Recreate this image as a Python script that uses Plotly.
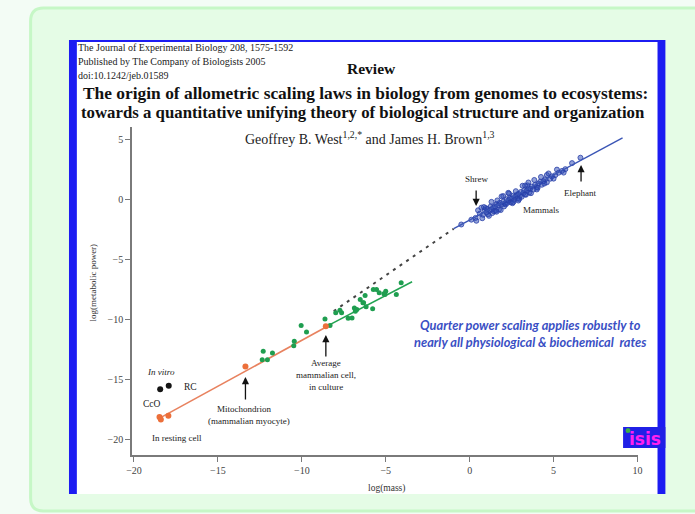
import plotly.graph_objects as go

W, H = 695, 514

# ---------------- data ----------------
orange_x = [-18.48, -18.40, -17.95, -13.36, -8.57]
orange_y = [-18.10, -18.30, -17.98, -13.90, -10.56]
orange_fit_x = [-18.58, -8.20]
orange_fit_y = [-18.27, -10.35]

invitro_x = [-18.44, -17.93]
invitro_y = [-15.78, -15.50]

green_x = [-12.30, -12.36, -12.05, -11.75, -10.04, -9.72, -10.45, -10.48,
           -8.62, -8.32, -7.98, -7.73, -7.63, -7.24, -7.01, -6.87, -6.81,
           -6.72, -6.52, -6.36, -6.23, -6.17, -5.78, -5.55, -5.39, -5.11,
           -5.00, -4.37, -4.08, -6.32, -5.05, -5.74]
green_y = [-12.64, -13.33, -13.33, -12.78, -10.50, -11.03, -11.81, -12.17,
           -9.95, -10.50, -9.44, -9.22, -9.44, -9.89, -9.86, -9.03, -9.31,
           -9.17, -8.33, -8.61, -8.00, -8.94, -9.11, -7.50, -7.78, -7.86,
           -7.64, -7.92, -6.94, -8.61, -7.92, -7.50]
green_fit_x = [-8.30, -3.43]
green_fit_y = [-10.40, -6.86]

bridge_x = [-8.10, -0.95]
bridge_y = [-9.30, -2.45]

mammal_x = [-0.50, 0.10, 0.35, 0.60, 0.70, 0.80, 0.90, 1.00, 1.05, 1.10, 1.20,
            1.25, 1.30, 1.35, 1.40, 1.50, 1.55, 1.60, 1.70, 1.75, 1.80, 1.90,
            2.00, 2.05, 2.10, 2.20, 2.25, 2.30, 2.40, 2.45, 2.50, 2.60, 2.65,
            2.70, 2.80, 2.85, 2.90, 3.00, 3.05, 3.10, 3.20, 3.25, 3.30, 3.40,
            3.50, 3.55, 3.60, 3.70, 3.80, 3.90, 4.00, 4.10, 4.20, 4.30, 4.40,
            4.50, 4.60, 4.80, 4.90, 5.10, 5.30, 5.50, 5.70, 6.10, 6.60,
            0.50, 0.75, 0.95, 1.15, 1.30, 1.45, 1.65, 1.85, 2.00, 2.15, 2.35,
            2.55, 2.75, 2.95, 3.15, 3.35, 3.45, 3.65, 3.85, 4.05, 4.25, 4.45,
            4.70, 5.00, 5.20, 5.60, 0.40, 0.85, 1.60, 2.30, 2.90, 3.50, 4.00,
            4.60, 1.90, 2.60, 3.30]
mammal_y = [-2.10, -1.70, -1.55, -1.20, -0.70, -1.30, -0.90, -1.10, -0.80,
            -1.25, -0.95, -0.60, -0.85, -1.15, -0.70, -0.60, -0.95, -0.40,
            -0.50, -0.85, -0.30, -0.45, -0.20, -0.60, -0.35, 0.00, -0.30,
            -0.10, 0.10, -0.25, 0.05, 0.30, -0.05, 0.20, 0.35, 0.05, 0.45,
            0.30, 0.60, 0.20, 0.50, 0.75, 0.40, 0.70, 0.90, 0.55, 0.85, 1.05,
            0.80, 1.20, 1.00, 1.30, 1.45, 1.20, 1.50, 1.65, 1.40, 1.70, 1.90,
            2.00, 2.20, 2.35, 2.50, 3.00, 3.45,
            -0.92, -1.58, -0.73, -1.38, -0.22, -1.00, -0.10, -0.90, 0.26,
            -0.43, 0.47, -0.33, 0.67, 0.02, 1.12, 0.37, 1.15, 0.50, 1.60,
            0.95, 1.85, 1.30, 2.14, 1.71, 2.46, 2.21, -1.79, -0.65, -1.04,
            0.53, -0.11, 1.39, 0.81, 2.01, 0.23, -0.24, 1.14]
mammal_fit_x = [-0.95, 9.11]
mammal_fit_y = [-2.45, 5.10]

x_ticks = [-20, -15, -10, -5, 0, 5, 10]
y_ticks = [5, 0, -5, -10, -15, -20]

# ---------------- helpers ----------------
def px(x):
    return x / W


def py(y):
    return 1 - y / H


def rrect(x0, y0, x1, y1, r):
    pts = [("M", [(x0 + r, y0)]), ("L", [(x1 - r, y0)]), ("Q", [(x1, y0), (x1, y0 + r)]),
           ("L", [(x1, y1 - r)]), ("Q", [(x1, y1), (x1 - r, y1)]), ("L", [(x0 + r, y1)]),
           ("Q", [(x0, y1), (x0, y1 - r)]), ("L", [(x0, y0 + r)]), ("Q", [(x0, y0), (x0 + r, y0)])]
    s = ""
    for cmd, pp in pts:
        s += cmd + " " + " ".join(f"{px(a):.5f},{py(b):.5f}" for a, b in pp) + " "
    return s + "Z"


SERIF = "Liberation Serif"

fig = go.Figure()

fig.add_trace(go.Scatter(x=bridge_x, y=bridge_y, mode="lines",
                         line=dict(color="#444444", width=2, dash="3px,5px"),
                         hoverinfo="skip"))
fig.add_trace(go.Scatter(x=orange_fit_x, y=orange_fit_y, mode="lines",
                         line=dict(color="#e8825f", width=1.6), hoverinfo="skip"))
fig.add_trace(go.Scatter(x=green_fit_x, y=green_fit_y, mode="lines",
                         line=dict(color="#22a352", width=1.6), hoverinfo="skip"))
fig.add_trace(go.Scatter(x=green_x, y=green_y, mode="markers",
                         marker=dict(color="#1f9e50", size=5)))
fig.add_trace(go.Scatter(x=orange_x, y=orange_y, mode="markers",
                         marker=dict(color="#ec6f3a", size=6)))
fig.add_trace(go.Scatter(x=invitro_x, y=invitro_y, mode="markers",
                         marker=dict(color="#151515", size=6)))
fig.add_trace(go.Scatter(x=mammal_x, y=mammal_y, mode="markers",
                         marker=dict(color="rgba(40,70,180,0.5)", size=5,
                                     line=dict(color="#2a40a8", width=0.8))))
fig.add_trace(go.Scatter(x=mammal_fit_x, y=mammal_fit_y, mode="lines",
                         line=dict(color="#3a55b5", width=1.4), hoverinfo="skip"))

axis_common = dict(showgrid=False, zeroline=False, showline=True, linecolor="#7a7a7a",
                   linewidth=1.6, ticks="outside", ticklen=5, tickwidth=1.2,
                   tickcolor="#7a7a7a", tickfont=dict(family=SERIF, size=10, color="#444444"))

fig.update_layout(
    width=W, height=H, autosize=False,
    margin=dict(l=0, r=0, t=0, b=0),
    paper_bgcolor="#f3fcf5", plot_bgcolor="rgba(0,0,0,0)",
    showlegend=False,
    xaxis=dict(domain=[px(128), px(642)], range=[-20.12, 10.02], tickvals=x_ticks,
               anchor="y", **axis_common),
    yaxis=dict(domain=[py(455), py(127)], range=[-21.25, 6.0], tickvals=y_ticks,
               anchor="x", **axis_common),
)

shapes = [
    dict(type="path", path=rrect(25, 8, 740, 511, 13), xref="paper", yref="paper",
         fillcolor="#e5fce6", line=dict(color="#c6f7c6", width=3), layer="below"),
    dict(type="rect", xref="paper", yref="paper", x0=px(64), x1=px(670), y0=py(494), y1=py(40),
         fillcolor="#1c1cf2", line=dict(width=0), layer="below"),
    dict(type="rect", xref="paper", yref="paper", x0=px(72), x1=px(662), y0=py(494), y1=py(42),
         fillcolor="#ffffff", line=dict(width=0), layer="below"),
    dict(type="rect", xref="paper", yref="paper", x0=px(627), x1=px(670), y0=py(448), y1=py(427),
         fillcolor="#2020e6", line=dict(width=0), layer="above"),
    dict(type="circle", xref="paper", yref="paper", x0=px(629.5), x1=px(634.5), y0=py(433), y1=py(428),
         fillcolor="#3cb043", line=dict(width=0), layer="above"),
]
fig.update_layout(shapes=shapes)

anns = []


def ann(text, x, y, size, color="#222222", family=SERIF, xanchor="center", **kw):
    anns.append(dict(text=text, x=px(x), y=py(y), xref="paper", yref="paper",
                     showarrow=False, xanchor=xanchor, yanchor="middle",
                     font=dict(family=family, size=size, color=color), **kw))


def arrow(x, y, ay):
    anns.append(dict(text="", x=px(x), y=py(y), xref="paper", yref="paper",
                     showarrow=True, ax=0, ay=ay, arrowhead=2, arrowsize=1.1,
                     arrowwidth=1.3, arrowcolor="#111111"))


# header
ann("The Journal of Experimental Biology 208, 1575-1592", 71, 47, 10, xanchor="left")
ann("Published by The Company of Biologists 2005", 71, 61, 10, xanchor="left")
ann("doi:10.1242/jeb.01589", 71, 75, 10, xanchor="left")
ann("<b>Review</b>", 371, 69, 15.5, color="#111111")
ann("<b>The origin of allometric scaling laws in biology from genomes to ecosystems:</b>",
    365, 93, 17.4, color="#111111")
ann("<b>towards a quantitative unifying theory of biological structure and organization</b>",
    363, 112, 16.8, color="#111111")
ann("Geoffrey B. West<sup>1,2,*</sup> and James H. Brown<sup>1,3</sup>", 370, 138, 14,
    color="#222222")

# axis titles
ann("log(mass)", 387, 488, 9.5, color="#333333")
ann("log(metabolic power)", 88, 283, 9, color="#333333", textangle=-90)

# in-chart labels
ann("<i>In vitro</i>", 157, 372, 9)
ann("RC", 187, 387, 9.5)
ann("CcO", 148, 404, 9.5)
ann("In resting cell", 174, 438, 9)
ann("Mitochondrion", 242, 409, 9)
ann("(mammalian myocyte)", 247, 421, 9)
ann("Average", 325, 363, 9)
ann("mammalian cell,", 325, 375, 9)
ann("in culture", 325, 387, 9)
ann("Shrew", 478, 179, 9)
ann("Elephant", 583, 193, 9)
ann("Mammals", 544, 210, 9)

arrow(243.3, 377, 24)
arrow(325, 335, 23)
arrow(477.7, 206, -17)
arrow(584.3, 165, 18)

ann("<b><i>Quarter power scaling applies robustly to</i></b>", 533, 325, 12.8,
    color="#3a4fc4", family="Lato")
ann("<b><i>nearly all physiological &amp; biochemical  rates</i></b>", 533, 342, 12.8,
    color="#3a4fc4", family="Lato")

ann("<b>isis</b>", 649, 439, 17, color="#ff20f0", family="DejaVu Sans")

fig.update_layout(annotations=anns)

fig.write_html("out.html")
